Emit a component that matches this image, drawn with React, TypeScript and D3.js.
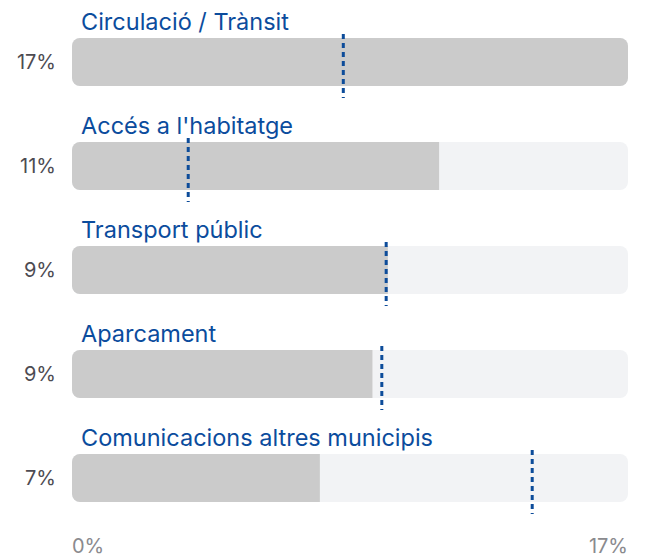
import React from "react";
import * as d3 from "d3";

const categories = [
  "Circulació / Trànsit",
  "Accés a l'habitatge",
  "Transport públic",
  "Aparcament",
  "Comunicacions altres municipis",
];
const values = [16.6, 10.96, 9.43, 8.97, 7.4];
const markers = [8.1, 3.47, 9.38, 9.25, 13.74];
const axisLabels = ["0%", "17%"];

const W = 646;
const H = 557;
const left = 72;
const right = 628;
const firstTop = 38;
const step = 104;
const barH = 48;

export default function App() {
  const max = d3.max(values) as number;
  const x = d3.scaleLinear().domain([0, max]).range([left, right]);
  const y = d3
    .scaleBand<number>()
    .domain(d3.range(categories.length))
    .range([firstTop, firstTop + step * categories.length])
    .paddingInner(0)
    .align(0);
  const font = "Inter, 'DM Sans', sans-serif";
  return (
    <svg
      width={W}
      height={H}
      style={{ position: "absolute", left: 0, top: 0 }}
      fontFamily={font}
    >
      <defs>
        {categories.map((_, i) => (
          <clipPath id={`clip${i}`} key={i}>
            <rect x={x(0)} y={y(i)} width={x(max) - x(0)} height={barH} rx={8} />
          </clipPath>
        ))}
      </defs>
      {categories.map((c, i) => {
        const top = y(i) as number;
        return (
          <g key={c}>
            <text x={81} y={top - 8} fill="#0b4c9d" fontSize={23.5}>
              {c}
            </text>
            <rect x={x(0)} y={top} width={x(max) - x(0)} height={barH} rx={8} fill="#f2f3f5" />
            <rect
              x={x(0)}
              y={top}
              width={x(values[i]) - x(0)}
              height={barH}
              fill="#cbcbcb"
              clipPath={`url(#clip${i})`}
            />
            <text
              x={56}
              y={top + barH / 2}
              dy="0.35em"
              textAnchor="end"
              fill="#4d4b52"
              fontSize={20}
            >
              {d3.format(".0f")(values[i])}%
            </text>
            <line
              x1={x(markers[i])}
              x2={x(markers[i])}
              y1={top - 4}
              y2={top + barH + 12}
              stroke="#0d4c9a"
              strokeWidth={3}
              strokeDasharray="5,4"
            />
          </g>
        );
      })}
      <text x={x(0)} y={553} fill="#8a8a8e" fontSize={20}>
        {axisLabels[0]}
      </text>
      <text x={x(max)} y={553} textAnchor="end" fill="#8a8a8e" fontSize={20}>
        {axisLabels[1]}
      </text>
    </svg>
  );
}
